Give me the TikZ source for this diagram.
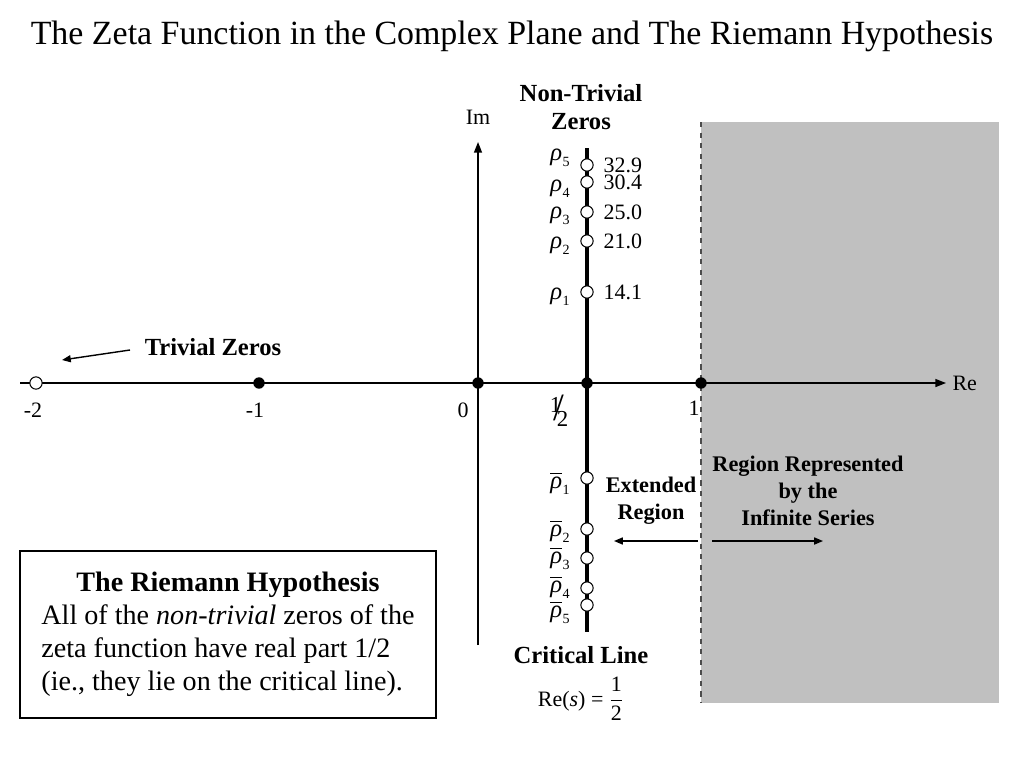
\documentclass[tikz,border=0pt]{standalone}
\usepackage{fontspec}
\setmainfont{Liberation Serif}
\usepackage{amsmath}
\usetikzlibrary{arrows.meta,positioning}
\definecolor{regiongray}{RGB}{192,192,192}

\newcommand{\rh}[1]{\textit{ρ}\kern0.02em\raisebox{-0.5ex}{\fontsize{8}{8}\selectfont #1}}
\newcommand{\rb}[1]{$\overline{\mbox{\textit{ρ}}}$\kern0.02em\raisebox{-0.5ex}{\fontsize{8}{8}\selectfont #1}}

\begin{document}
\begin{tikzpicture}[x=0.02cm, y=-0.02cm,
  axis/.style={line width=0.8pt, -{Triangle[length=6pt,width=4.5pt]}},
  arr/.style={line width=0.8pt, -{Triangle[length=5pt,width=4pt]}},
  dot/.style={circle, fill=black, inner sep=0pt, minimum size=6.5pt},
  zero/.style={circle, draw=black, fill=white, line width=0.6pt, inner sep=0pt, minimum size=7pt},
  small/.style={font=\fontsize{12.5}{14}\selectfont, inner sep=0.5pt},
  rholbl/.style={font=\fontsize{14}{16}\selectfont, inner sep=1pt},
  boldlbl/.style={font=\fontsize{14}{16}\selectfont\bfseries, align=center, inner sep=1pt},
  boldsm/.style={font=\fontsize{12.7}{15.5}\selectfont\bfseries, align=center, inner sep=1pt},
]
\useasboundingbox (0,0) rectangle (1024,768);

% title
\node[font=\fontsize{19.3}{22}\selectfont] (title) at (512,36)
  {The Zeta Function in the Complex Plane and The Riemann Hypothesis};

% region of the infinite series
\fill[regiongray] (701,122) rectangle (999,703);
\draw[dashed, line width=0.6pt, black!70] (701,122) -- (701,703);

% axes
\coordinate (reL) at (20,383);
\coordinate (reR) at (946,383);
\coordinate (imB) at (478,645);
\coordinate (imT) at (478,142);
\draw[axis] (reL) -- (reR);
\draw[axis] (imB) -- (imT);
\node[small, right=3pt of reR] (re) {Re};
\node[small, above=9pt of imT] (im) {Im};

% critical line
\coordinate (clT) at (587,148);
\coordinate (clB) at (587,632);
\draw[line width=2pt] (clT) -- (clB);

% points on the real axis
\node[zero] (m2) at (36,383) {};
\node[dot]  (m1) at (259,383) {};
\node[dot]  (z0) at (478,383) {};
\node[dot]  (hf) at (587,383) {};
\node[dot]  (p1) at (701,383) {};
\node[small] at (33,410) {-2};
\node[small] at (255,410) {-1};
\node[small] at (463,410) {0};
\node[small] at (694,408) {1};
\node[font=\fontsize{13}{15}\selectfont, inner sep=0pt] (half) at (559,411)
  {\raisebox{0.75ex}{1}\kern-0.34em{\fontsize{22}{22}\selectfont/}\kern-0.32em\raisebox{-0.6ex}{2}};

% trivial zeros
\node[boldlbl] (tz) at (213,347) {Trivial Zeros};
\coordinate (tzS) at (130,350);
\coordinate (tzA) at (62,360);
\draw[arr] (tzS) -- (tzA);

% non-trivial zeros above the axis
\node[boldlbl] (ntz) at (581,107) {Non-Trivial\\Zeros};
\foreach \k/\yy/\val/\ly in {1/292/14.1/297, 2/241/21.0/246, 3/212/25.0/216, 4/182/30.4/189, 5/165/32.9/158}{
  \node[zero] (r\k) at (587,\yy) {};
  \node[small, right=5pt of r\k] (v\k) {\val};
  \node[rholbl] (rl\k) at (560,\ly) {\rh{\k}};
}

% conjugate zeros below the axis
\foreach \k/\yy/\ly in {1/478/483, 2/529/531, 3/558/558, 4/588/587, 5/605/612}{
  \node[zero] (c\k) at (587,\yy) {};
  \node[rholbl] (cl\k) at (560,\ly) {\rb{\k}};
}

% critical line label
\node[boldlbl] (crit) at (581,655) {Critical Line};
\node[font=\fontsize{12.5}{14}\selectfont, below=3pt of crit] (crit2)
  {Re(\textit{s})\kern0.25em=\kern0.25em$\dfrac{\mbox{1}}{\mbox{2}}$};

% extended region and series region
\node[boldsm] (ext) at (651,501) {Extended\\Region};
\node[boldsm] (ser) at (808,491) {Region Represented\\by the\\Infinite Series};
\coordinate (extS) at (698,541);
\coordinate (extE) at (614,541);
\coordinate (serS) at (712,541);
\coordinate (serE) at (823,541);
\draw[arr] (extS) -- (extE);
\draw[arr] (serS) -- (serE);

% the hypothesis
\node[draw, line width=1.3pt, minimum width=416*0.02cm, minimum height=167*0.02cm,
      font=\fontsize{16}{18.8}\selectfont] (hyp) at (228,634.5)
  {\begin{tabular}{@{}l@{}}
   \multicolumn{1}{c}{\bfseries The Riemann Hypothesis}\\
   All of the \textit{non-trivial} zeros of the\\
   zeta function have real part 1/2\\
   (ie., they lie on the critical line).
   \end{tabular}};
\end{tikzpicture}
\end{document}
